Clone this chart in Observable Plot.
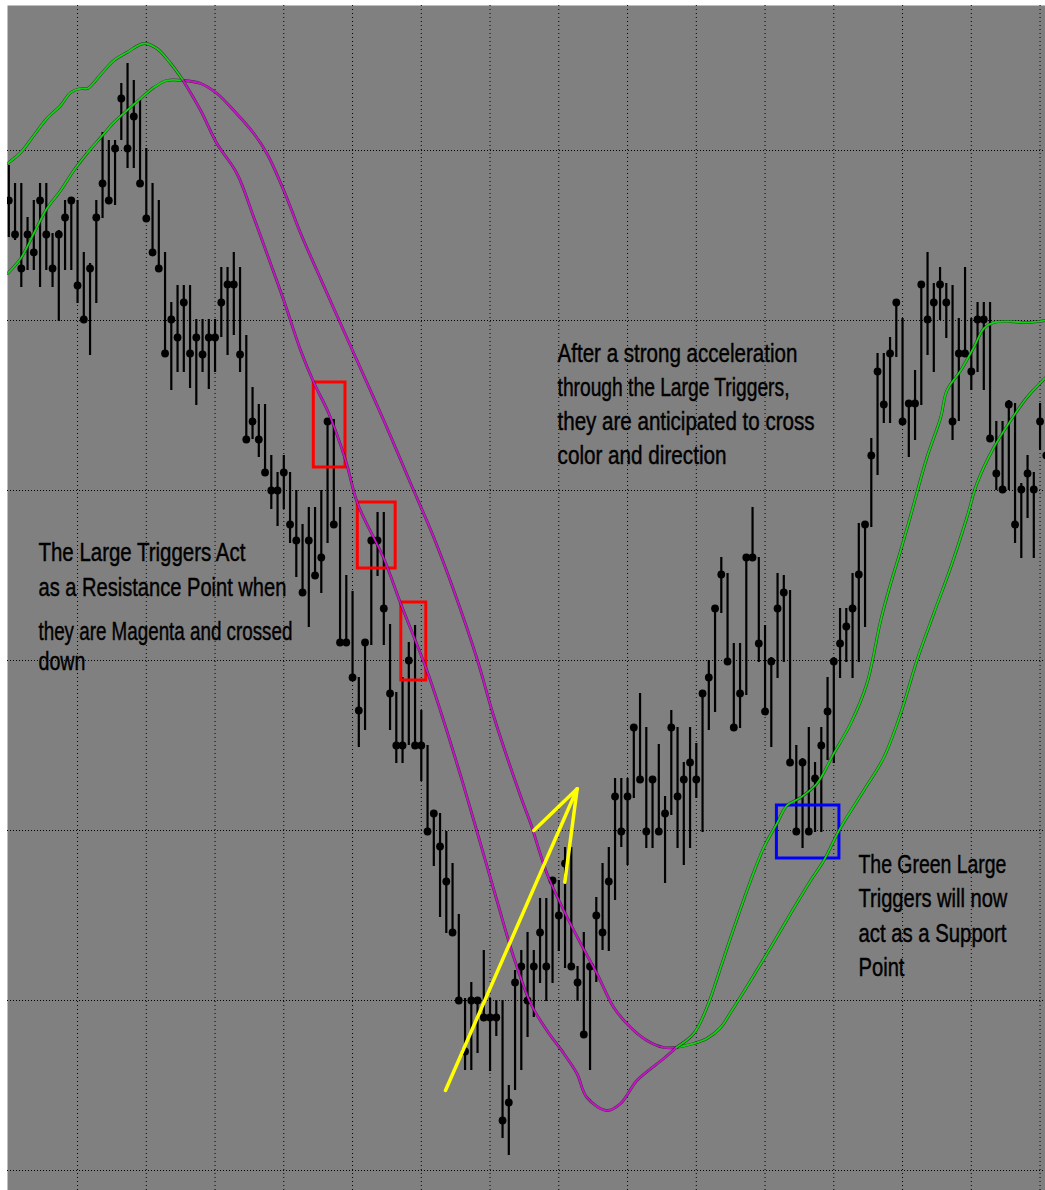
<!DOCTYPE html>
<html>
<head>
<meta charset="utf-8">
<script src="https://cdn.jsdelivr.net/npm/d3@7"></script>
<script src="https://cdn.jsdelivr.net/npm/@observablehq/plot@0.6"></script>
<style>
  html, body { margin: 0; padding: 0; background: #ffffff; }
  #chart svg { display: block; }
</style>
</head>
<body>
<div id="chart"></div>
<script>
// ---------- DATA (price in points, bar index along x) ----------
const barHigh = [
  1005, 987, 987, 953, 970, 987, 987, 937, 940, 970,
  973, 970, 918, 907, 970, 1038, 1030, 1030, 1087, 1107,
  1090, 1070, 1022, 987, 970, 918, 868, 885, 885, 885,
  851, 851, 851, 851, 903, 903, 918, 903, 835, 783,
  766, 766, 715, 698, 715, 698, 680, 646, 663, 663,
  680, 749, 751, 663, 595, 579, 493, 528, 630, 658,
  658, 546, 478, 493, 528, 545, 460, 425, 357, 357,
  339, 307, 256, 172, 188, 172, 220, 172, 170, 170,
  85, 200, 220, 238, 220, 272, 272, 290, 290, 323,
  323, 204, 238, 207, 273, 307, 323, 392, 392, 392,
  443, 477, 443, 393, 426, 374, 460, 443, 408, 443,
  427, 480, 510, 565, 613, 597, 527, 527, 613, 663,
  613, 545, 513, 597, 595, 580, 425, 412, 443, 408,
  443, 493, 513, 562, 562, 597, 647, 647, 732, 817,
  817, 833, 870, 852, 767, 800, 887, 918, 887, 903,
  887, 885, 852, 903, 852, 868, 868, 868, 749, 749,
  770, 767, 687, 715, 698, 767, 728
];
const barLow = [
  933, 930, 883, 900, 900, 883, 900, 883, 849, 900,
  900, 867, 850, 815, 867, 952, 970, 965, 1030, 1002,
  1002, 985, 950, 917, 900, 817, 780, 798, 798, 782,
  765, 798, 781, 798, 833, 815, 835, 798, 731, 731,
  713, 697, 661, 644, 661, 627, 593, 578, 543, 595,
  577, 627, 643, 528, 528, 493, 423, 440, 525, 594,
  525, 440, 407, 407, 425, 425, 389, 339, 304, 253,
  237, 238, 170, 100, 100, 117, 153, 99, 134, 32,
  15, 80, 100, 133, 153, 187, 169, 187, 219, 202,
  204, 169, 136, 100, 188, 220, 219, 270, 323, 305,
  372, 391, 322, 322, 339, 287, 355, 322, 305, 322,
  372, 338, 440, 458, 557, 508, 443, 442, 475, 613,
  508, 455, 423, 492, 508, 408, 339, 322, 339, 338,
  338, 410, 407, 492, 508, 492, 508, 543, 643, 695,
  747, 747, 813, 749, 713, 730, 765, 815, 798, 850,
  832, 730, 749, 817, 780, 798, 780, 732, 680, 681,
  680, 627, 612, 652, 612, 720, 670
];
const barClose = [
  970, 936, 902, 936, 918, 970, 936, 902, 936, 953,
  970, 885, 851, 902, 953, 987, 970, 1022, 1072, 1022,
  1054, 987, 952, 918, 902, 817, 851, 833, 868, 817,
  833, 816, 833, 833, 868, 886, 886, 816, 731, 749,
  731, 698, 680, 680, 698, 646, 630, 578, 630, 595,
  613, 749, 646, 528, 528, 493, 460, 528, 630, 630,
  562, 477, 425, 425, 510, 425, 425, 339, 357, 324,
  289, 238, 170, 119, 170, 170, 153, 153, 153, 50,
  68, 188, 204, 170, 204, 238, 204, 290, 255, 307,
  204, 188, 136, 204, 255, 238, 289, 374, 339, 374,
  443, 391, 339, 391, 339, 357, 443, 374, 391, 408,
  391, 477, 493, 562, 596, 509, 443, 477, 613, 613,
  527, 459, 509, 562, 578, 408, 339, 408, 339, 392,
  425, 459, 509, 527, 544, 562, 596, 646, 715, 799,
  766, 817, 868, 749, 767, 767, 886, 851, 868, 886,
  868, 749, 817, 817, 799, 851, 851, 732, 697, 681,
  766, 646, 681, 697, 681, 749, 715
];

// "Large Triggers" (fast and slow averages), sampled at bar positions
const fastIdx = [-0.2, 1.9, 4, 6.1, 8.3, 9.9, 11.5, 12.6, 14.7, 16.8, 18.9, 21.6, 23.7, 25.9, 27.9,
  30.7, 33.3, 36.5, 39.2, 41.3, 44, 46.7, 48.8, 51.2, 53.9, 55.8, 60, 62.7, 66.9, 69.1, 71.8, 74.4,
  78.1, 80.8, 83.5, 86.1, 88.8, 90.9, 92.5, 95.7, 97.9, 100.5, 104.8, 106.8, 109.6, 111.7, 113.9,
  115.5, 118.7, 120.8, 122.9, 124.5, 126.7, 129.3, 132, 134.7, 137.3, 139.5, 141.1, 142.7, 144.3,
  146.9, 149.1, 150.1, 152.3, 154.4, 156, 157.6, 160.3, 162.9, 165.9];
const fastVal = [1007, 1018, 1035, 1052, 1065, 1078, 1082, 1082, 1096, 1110, 1118, 1127, 1122, 1107, 1090,
  1060, 1027, 997, 953, 917, 870, 820, 788, 757, 710, 667, 612, 567, 500, 459, 405, 350,
  270, 213, 167, 140, 117, 97, 73, 60, 67, 90, 112, 123, 137, 163, 203,
  233, 290, 323, 347, 365, 373, 387, 417, 447, 487, 550, 587, 620, 655,
  713, 753, 780, 800, 823, 842, 848, 849, 848, 850];
const slowIdx = [-0.2, 1.9, 4, 6.1, 8.3, 10.4, 12.5, 14.7, 16.8, 18.9, 21.1, 23.2, 25.3, 27.9,
  30.7, 33.3, 36, 39.2, 41.3, 44, 46.7, 49.3, 52, 55.5, 60, 64.3, 68, 71.2, 74.9, 77.6, 81.9,
  83.5, 86.1, 88.8, 91.5, 94.1, 96.8, 99.5, 102.1, 104.8, 106.8, 109.6, 111.7, 113.9, 115.5,
  118.7, 121.9, 125.1, 128.3, 130.4, 133.1, 136.8, 140, 142.7, 145.3, 148, 150.7, 153.3, 154.9,
  157.6, 160.3, 162.9, 165.9];
const slowVal = [897, 912, 937, 962, 980, 1000, 1017, 1033, 1048, 1060, 1072, 1083, 1090, 1090,
  1087, 1077, 1060, 1037, 1017, 980, 937, 900, 862, 813, 750, 687, 633, 580, 512, 454, 374,
  347, 297, 260, 227, 197, 163, 143, 130, 123, 123, 127, 132, 143, 158,
  190, 223, 257, 290, 310, 343, 380, 413, 457, 510, 557, 603, 653, 687,
  723, 750, 773, 793];
// bar positions where the two triggers cross (colour changes there)
const crossIdx = [27.9, 106.8];
const triggerColors = ["#12d012", "#cc12cc", "#12d012"];

// grid
const gridPrices = [0, 170, 340, 510, 680, 850, 1020];
const gridBars = [11, 22, 33, 44, 55, 66, 77, 88, 99, 110, 121, 132, 143, 154, 165];

// annotation boxes (bar index / price)
const redBoxes = [
  {x1: 48.8, x2: 53.87, y1: 703, y2: 788},
  {x1: 55.84, x2: 61.9, y1: 602, y2: 668},
  {x1: 62.8, x2: 66.8, y1: 490, y2: 568}
];
const blueBoxes = [{x1: 122.9, x2: 132.9, y1: 312, y2: 365}];
// yellow arrow: shaft and two barbs
const arrowSegs = [
  {x1: 69.87, y1: 80, x2: 90.94, y2: 381.7},
  {x1: 90.94, y1: 381.7, x2: 84.0, y2: 340},
  {x1: 90.94, y1: 381.7, x2: 88.96, y2: 288.3}
];
// text notes
const noteText = [
  "The Large Triggers Act", "as a Resistance Point when", "they are Magenta and crossed", "down",
  "After a strong acceleration", "through the Large Triggers,", "they are anticipated to cross", "color and direction",
  "The Green Large", "Triggers will now", "act as a Support", "Point"
];
const noteX = [4.75, 4.75, 4.75, 4.75, 87.8, 87.8, 87.8, 87.8, 135.95, 135.95, 135.95, 135.95];
const noteY = [618, 583, 539, 509, 817, 783, 749, 715, 306, 272, 237, 203];
const noteWidth = [207, 248, 254, 47, 240, 232, 257, 169, 148, 149, 148, 46];

// ---------- BUILD ----------
const bars = barHigh.map((h, i) => ({i, high: h, low: barLow[i], close: barClose[i]}));

function splitSeries(I, V, name) {
  const out = [];
  I.forEach((x, k) => {
    let s = 0;
    while (s < crossIdx.length && x > crossIdx[s]) s++;
    out.push({i: x, v: V[k], seg: name + s, color: triggerColors[s]});
    if (crossIdx.includes(x)) out.push({i: x, v: V[k], seg: name + (s + 1), color: triggerColors[s + 1]});
  });
  return out;
}
const fast = splitSeries(fastIdx, fastVal, "fast");
const slow = splitSeries(slowIdx, slowVal, "slow");
const notes = noteText.map((t, k) => ({t, x: noteX[k], y: noteY[k]}));

const fontStack = "'Liberation Sans', Arial, sans-serif";

const lineMarks = (data) => [
  Plot.line(data, {x: "i", y: "v", z: "seg", stroke: "#000000", strokeWidth: 2.8, strokeOpacity: 0.6, curve: "catmull-rom", clip: true}),
  Plot.line(data, {x: "i", y: "v", z: "seg", stroke: "color", strokeWidth: 1.9, curve: "catmull-rom", clip: true})
];

const chart = Plot.plot({
  width: 1045,
  height: 1190,
  marginLeft: 7,
  marginTop: 5,
  marginRight: 0,
  marginBottom: 0,
  style: {background: "#ffffff", overflow: "hidden"},
  x: {domain: [-0.208, 165.872], axis: null},
  y: {domain: [-20, 1165], axis: null},
  color: {type: "identity"},
  marks: [
    Plot.frame({fill: "#808080", stroke: "none"}),
    Plot.ruleY(gridPrices, {stroke: "#000000", strokeWidth: 1, strokeDasharray: "1,2"}),
    Plot.ruleX(gridBars, {stroke: "#000000", strokeWidth: 1, strokeDasharray: "1,3"}),
    Plot.ruleX(bars, {x: "i", y1: "low", y2: "high", stroke: "#000000", strokeWidth: 2.2, clip: true}),
    Plot.dot(bars, {x: "i", y: "close", r: 3.9, fill: "#000000", stroke: "none", clip: true}),
    Plot.rect(redBoxes, {x1: "x1", x2: "x2", y1: "y1", y2: "y2", fill: "none", stroke: "#ff0000", strokeWidth: 3}),
    Plot.rect(blueBoxes, {x1: "x1", x2: "x2", y1: "y1", y2: "y2", fill: "none", stroke: "#0000ff", strokeWidth: 3}),
    ...lineMarks(slow),
    ...lineMarks(fast),
    Plot.link(arrowSegs, {x1: "x1", y1: "y1", x2: "x2", y2: "y2", stroke: "#ffff00", strokeWidth: 3.5, strokeLinecap: "round"}),
    Plot.text(notes, {x: "x", y: "y", text: "t", textAnchor: "start", fontSize: 25, fontFamily: fontStack,
      fill: "#000000", stroke: "#000000", strokeWidth: 0.45})
  ]
});

document.getElementById("chart").appendChild(chart);

// narrow each note line horizontally (about its start point) to its measured width
d3.select(chart).selectAll('g[aria-label="text"] text').each(function(d, k) {
  const w = this.getComputedTextLength();
  if (!w) return;
  const s = noteWidth[k] / w;
  const x0 = +(this.getAttribute("x") || 0);
  const t = this.getAttribute("transform") || "";
  this.setAttribute("transform", `${t} translate(${x0},0) scale(${s},1) translate(${-x0},0)`);
});
</script>
</body>
</html>
